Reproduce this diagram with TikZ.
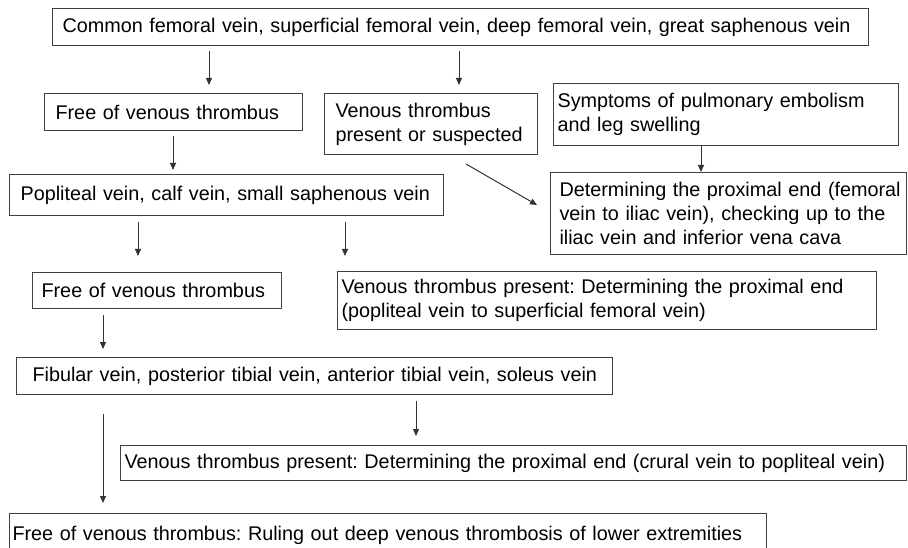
\documentclass[tikz,border=0pt]{standalone}
\usepackage{fontspec}
\setmainfont{Liberation Sans}
\usetikzlibrary{arrows.meta}
\newcommand{\oneline}[1]{\mbox{#1}}
\begin{document}
\begin{tikzpicture}[x=1pt,y=-1pt,
  box/.style={draw=black!75, line width=1.1pt, anchor=north west, inner ysep=0pt,
    align=left, font=\fontsize{19.8}{24}\selectfont\frenchspacing},
  arr/.style={draw=black!80, line width=1pt, -{Triangle[length=7pt,width=6pt]}}]
\useasboundingbox (0,0) rectangle (908,548);
\begin{scope}
\clip (0,0) rectangle (908,548);
\node[box, inner xsep=10pt, minimum width=816pt, text width=796pt, minimum height=37pt] (top) at (52,8)
  {\oneline{Common femoral vein, superficial femoral vein, deep femoral vein, great saphenous vein}};
\node[box, inner xsep=11pt, minimum width=258pt, text width=236pt, minimum height=37pt] (f1) at (44,93)
  {\oneline{Free of venous thrombus}};
\node[box, inner xsep=11pt, minimum width=213pt, text width=191pt, minimum height=61pt] (v1) at (324,93)
  {\oneline{Venous thrombus}\\\oneline{present or suspected}};
\node[box, inner xsep=4pt, minimum width=345pt, text width=337pt, minimum height=62pt] (s) at (553,83)
  {\oneline{Symptoms of pulmonary embolism}\\\oneline{and leg swelling}};
\node[box, inner xsep=9pt, minimum width=356pt, text width=338pt, minimum height=82pt] (d1) at (550,172)
  {\oneline{Determining the proximal end (femoral}\\\oneline{vein to iliac vein), checking up to the}\\\oneline{iliac vein and inferior vena cava}};
\node[box, inner xsep=11pt, minimum width=434pt, text width=412pt, minimum height=41pt] (p) at (9,174)
  {\oneline{Popliteal vein, calf vein, small saphenous vein}};
\node[box, inner xsep=9pt, minimum width=249pt, text width=231pt, minimum height=36pt] (f2) at (32,272)
  {\oneline{Free of venous thrombus}};
\node[box, inner xsep=4pt, minimum width=539pt, text width=531pt, minimum height=58pt] (v2) at (337,271)
  {\oneline{Venous thrombus present: Determining the proximal end}\\\oneline{(popliteal vein to superficial femoral vein)}};
\node[box, inner xsep=16pt, minimum width=596pt, text width=564pt, minimum height=37pt] (fib) at (16,357)
  {\oneline{Fibular vein, posterior tibial vein, anterior tibial vein, soleus vein}};
\node[box, inner xsep=4pt, minimum width=786pt, text width=778pt, minimum height=35pt] (v3) at (120,445)
  {\oneline{Venous thrombus present: Determining the proximal end (crural vein to popliteal vein)}};
\node[box, inner xsep=3pt, minimum width=757pt, text width=751pt, minimum height=44pt] (fin) at (9,513)
  {\oneline{Free of venous thrombus: Ruling out deep venous thrombosis of lower extremities}};
\end{scope}
% arrow x positions
\coordinate (x1) at (209,0);
\coordinate (x2) at (459,0);
\coordinate (x3) at (173,0);
\coordinate (x4) at (701,0);
\coordinate (x5) at (138,0);
\coordinate (x6) at (345,0);
\coordinate (x7) at (103,0);
\coordinate (x8) at (416,0);
\coordinate (dstart) at (466,164);
\coordinate (dend) at (537,205);
\draw[arr, shorten <=5pt, shorten >=8pt] (top.south -| x1) -- (f1.north -| x1);
\draw[arr, shorten <=5pt, shorten >=8pt] (top.south -| x2) -- (v1.north -| x2);
\draw[arr, shorten <=5pt, shorten >=4pt] (f1.south -| x3) -- (p.north -| x3);
\draw[arr, shorten <=0pt, shorten >=0pt] (s.south -| x4) -- (d1.north -| x4);
\draw[arr] (dstart) -- (dend);
\draw[arr, shorten <=6pt, shorten >=16pt] (p.south -| x5) -- (f2.north -| x5);
\draw[arr, shorten <=6pt, shorten >=15pt] (p.south -| x6) -- (v2.north -| x6);
\draw[arr, shorten <=6pt, shorten >=8pt] (f2.south -| x7) -- (fib.north -| x7);
\draw[arr, shorten <=6pt, shorten >=9pt] (fib.south -| x8) -- (v3.north -| x8);
\draw[arr, shorten <=19pt, shorten >=10pt] (fib.south -| x7) -- (fin.north -| x7);
\end{tikzpicture}
\end{document}
